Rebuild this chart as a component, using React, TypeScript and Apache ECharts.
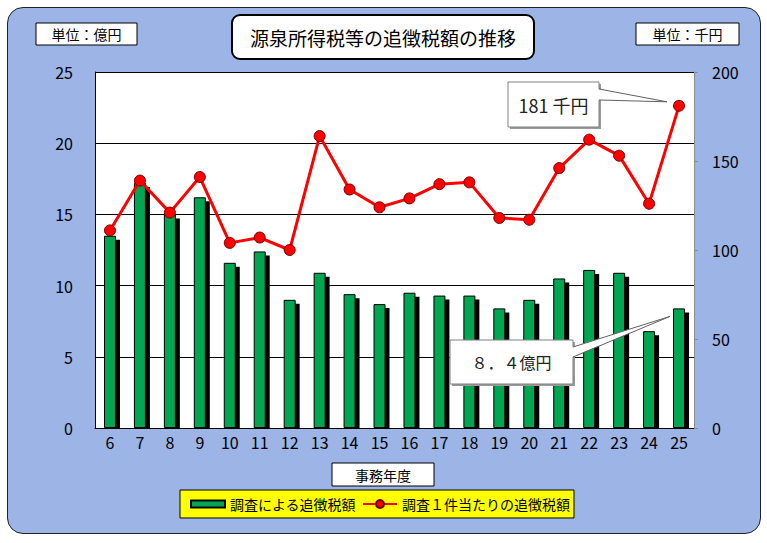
import { useRef, useEffect } from 'react'
import * as echarts from 'echarts'

const FONT = '"Noto Sans CJK JP", "Noto Sans", sans-serif'

// 事務年度
const categories = ['6', '7', '8', '9', '10', '11', '12', '13', '14', '15', '16', '17', '18', '19', '20', '21', '22', '23', '24', '25']
// 調査による追徴税額（億円）
const barValues = [13.5, 17.2, 15.0, 16.2, 11.6, 12.4, 9.0, 10.9, 9.4, 8.7, 9.5, 9.3, 9.3, 8.4, 9.0, 10.5, 11.1, 10.9, 6.8, 8.4]
// 調査１件当たりの追徴税額（千円）
const lineValues = [111, 139, 121, 141, 104, 107, 100, 164, 134, 124, 129, 137, 138, 118, 117, 146, 162, 153, 126, 181]

const leftTicks = { min: 0, max: 25, interval: 5 }
const rightTicks = { min: 0, max: 200, interval: 50 }

const barName = '調査による追徴税額'
const lineName = '調査１件当たりの追徴税額'

const BAR_W = 12
const SHADOW = 4

function labelBox(x: number, y: number, w: number, h: number, text: string, fontSize: number) {
  return [
    { type: 'rect', z: 100, shape: { x, y, width: w, height: h }, style: { fill: '#fff', stroke: '#000', lineWidth: 1 } },
    { type: 'text', z: 101, x: x + w / 2, y: y + h / 2, style: { text, fontSize, fontFamily: FONT, fill: '#000', align: 'center', verticalAlign: 'middle' } },
  ]
}

function callout(x: number, y: number, w: number, h: number, text: string, fontSize: number, y1: number, y2: number, tip: number[]) {
  return [
    { type: 'rect', z: 100, shape: { x: x + 2, y: y + 2, width: w, height: h }, style: { fill: '#9a9a9a' } },
    { type: 'rect', z: 101, shape: { x, y, width: w, height: h }, style: { fill: '#fff', stroke: '#808080', lineWidth: 1 } },
    { type: 'polygon', z: 102, shape: { points: [[x + w - 1, y1], tip, [x + w - 1, y2]] }, style: { fill: '#fff' } },
    { type: 'polyline', z: 103, shape: { points: [[x + w, y1], tip, [x + w, y2]] }, style: { stroke: '#606060', lineWidth: 1, fill: 'none' } },
    { type: 'text', z: 104, x: x + w / 2, y: y + h / 2, style: { text, fontSize, fontFamily: FONT, fill: '#222', align: 'center', verticalAlign: 'middle' } },
  ]
}

export default function App() {
  const chartRef = useRef<HTMLDivElement>(null)

  useEffect(() => {
    document.body.style.margin = '0'
    if (!chartRef.current) return
    const chart = echarts.init(chartRef.current, undefined, { renderer: 'svg' })

    chart.setOption({
      animation: false,
      backgroundColor: 'transparent',
      textStyle: { fontFamily: FONT },
      grid: { left: 95, right: 73, top: 72, bottom: 115, show: true, backgroundColor: '#fff', borderWidth: 0 },
      legend: {
        left: 180, top: 490,
        backgroundColor: '#ffff00', borderColor: '#000', borderWidth: 1,
        padding: [7, 4, 7, 10],
        itemGap: 6, itemWidth: 34, itemHeight: 10,
        textStyle: { fontSize: 14, color: '#000', fontFamily: FONT },
        data: [
          { name: barName, icon: 'path://M0,0h34v7h-34z' },
          { name: lineName },
        ],
      },
      xAxis: {
        type: 'category',
        data: categories,
        axisLine: { lineStyle: { color: '#000', width: 1 } },
        axisTick: { show: false },
        axisLabel: { color: '#000', fontSize: 16, margin: 6, fontFamily: FONT },
        splitLine: { show: false },
      },
      yAxis: [
        {
          type: 'value', position: 'left', ...leftTicks,
          axisLine: { show: true, lineStyle: { color: '#000', width: 1 } },
          axisTick: { show: false },
          axisLabel: { color: '#000', fontSize: 16, margin: 22, fontFamily: FONT },
          splitLine: { show: true, lineStyle: { color: '#000', width: 1 } },
        },
        {
          type: 'value', position: 'right', ...rightTicks,
          axisLine: { show: true, lineStyle: { color: '#8c8c8c', width: 1 } },
          axisTick: { show: true, length: 4, lineStyle: { color: '#8c8c8c' } },
          axisLabel: { color: '#000', fontSize: 16, margin: 18, fontFamily: FONT },
          splitLine: { show: false },
        },
      ],
      series: [
        {
          type: 'custom',
          z: 1,
          silent: true,
          data: barValues.map((v, i) => [i, v]),
          encode: { x: 0, y: 1 },
          renderItem: (_params: any, api: any) => {
            const top = api.coord([api.value(0), api.value(1)])
            const base = api.coord([api.value(0), 0])
            const x = top[0] - BAR_W / 2 + SHADOW
            const y = top[1] + SHADOW
            return {
              type: 'rect',
              shape: { x, y, width: BAR_W, height: Math.max(0, base[1] - y) },
              style: { fill: '#000' },
            }
          },
        },
        {
          name: barName,
          type: 'bar',
          z: 2,
          barWidth: BAR_W,
          data: barValues,
          itemStyle: { color: '#00a651', borderColor: '#000', borderWidth: 1 },
        },
        {
          name: lineName,
          type: 'line',
          z: 3,
          yAxisIndex: 1,
          data: lineValues,
          symbol: 'circle',
          symbolSize: 11,
          lineStyle: { color: '#ff0000', width: 3 },
          itemStyle: { color: '#ff0000', borderColor: '#700', borderWidth: 1 },
        },
      ],
    })

    const last = categories.length - 1
    const pLine = chart.convertToPixel({ xAxisIndex: 0, yAxisIndex: 1 }, [last, lineValues[last]]) as number[]
    const pBar = chart.convertToPixel({ xAxisIndex: 0, yAxisIndex: 0 }, [last, barValues[last]]) as number[]

    chart.setOption({
      graphic: [
        { type: 'rect', z: 100, shape: { x: 232, y: 15, width: 302, height: 44, r: 8 }, style: { fill: '#fff', stroke: '#000', lineWidth: 2 } },
        { type: 'text', z: 101, x: 383, y: 37, style: { text: '源泉所得税等の追徴税額の推移', fontSize: 19, fontFamily: FONT, fill: '#000', align: 'center', verticalAlign: 'middle' } },
        ...labelBox(36, 23, 101, 22, '単位：億円', 14),
        ...labelBox(636, 23, 103, 22, '単位：千円', 14),
        ...labelBox(332, 463, 102, 23, '事務年度', 14),
        ...callout(508, 82, 91, 45, '181 千円', 18, 89, 100, [pLine[0] - 12, pLine[1] - 4]),
        ...callout(450, 340, 123, 44, '８．４億円', 16, 347, 357, [pBar[0] - 9, pBar[1] + 8]),
      ],
    })

    return () => chart.dispose()
  }, [])

  return (
    <div style={{ position: 'relative', width: 767, height: 543, background: '#fff', overflow: 'hidden' }}>
      <div style={{
        position: 'absolute', left: 7, top: 7, width: 752, height: 525,
        background: '#9cb4e6', border: '1.5px solid #222', borderRadius: 16,
      }} />
      <div ref={chartRef} style={{ position: 'absolute', left: 0, top: 0, width: 767, height: 543 }} />
    </div>
  )
}
